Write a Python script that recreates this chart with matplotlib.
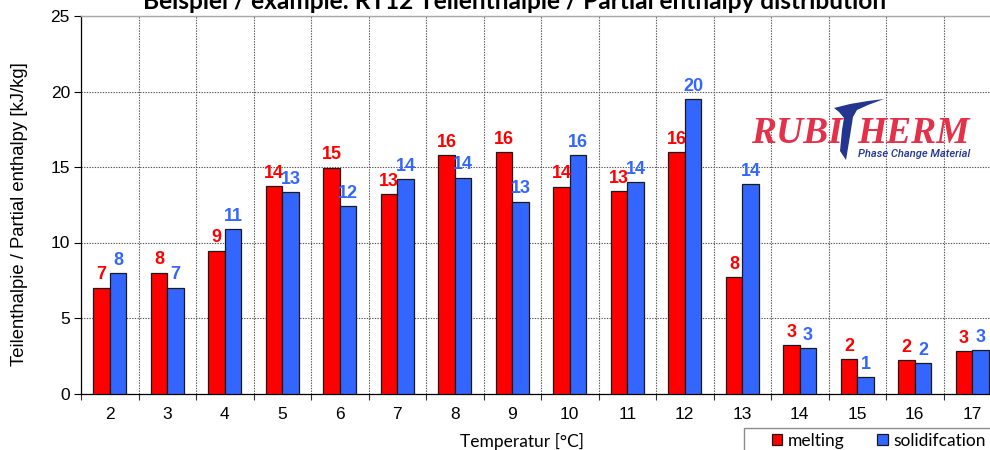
import matplotlib
matplotlib.use("Agg")
import matplotlib.pyplot as plt
import numpy as np
from matplotlib.patches import Rectangle, Polygon
from matplotlib.ticker import FixedLocator

# ---------------- data ----------------
temperatures = [2, 3, 4, 5, 6, 7, 8, 9, 10, 11, 12, 13, 14, 15, 16, 17]
melting = [7.0, 8.0, 9.45, 13.75, 14.95, 13.2, 15.8, 16.0, 13.7, 13.4, 16.0, 7.7, 3.2, 2.26, 2.2, 2.8]
solidification = [7.95, 7.0, 10.9, 13.35, 12.4, 14.2, 14.3, 12.7, 15.8, 14.0, 19.5, 13.85, 3.0, 1.08, 1.99, 2.85]
series_names = ["melting", "solidifcation"]
y_ticks = [0, 5, 10, 15, 20, 25]

title_text = "Beispiel / example: RT12 Teilenthalpie / Partial enthalpy distribution"
ylabel_text = "Teilenthalpie / Partial enthalpy [kJ/kg]"
xlabel_text = "Temperatur [°C]"

RED = "#FF0000"
BLUE = "#3366FF"

W, H = 990, 450
fig = plt.figure(figsize=(W / 100, H / 100), dpi=100)

def fx(px):
    return px / W

def fy(py):
    return 1 - py / H

ax_left, ax_right, ax_top, ax_bottom = 81, 1001, 16, 393.5
ax = fig.add_axes([fx(ax_left), fy(ax_bottom), fx(ax_right - ax_left), (ax_bottom - ax_top) / H])

x = np.arange(len(temperatures))
bw = 0.287
bars_m = ax.bar(x - bw / 2, melting, width=bw, color=RED, edgecolor="#1a1a1a", linewidth=0.9, zorder=3, label=series_names[0])
bars_s = ax.bar(x + bw / 2, solidification, width=bw, color=BLUE, edgecolor="#1a1a1a", linewidth=0.9, zorder=3, label=series_names[1])

for xi, v in zip(x, melting):
    ax.annotate(f"{int(round(v))}", (xi - bw / 2, v), xytext=(0, 6), textcoords="offset points",
                ha="center", va="baseline", color=RED, fontsize=13, fontweight="bold",
                family="Liberation Sans", zorder=5)
for xi, v in zip(x, solidification):
    ax.annotate(f"{int(round(v))}", (xi + bw / 2, v), xytext=(0, 6), textcoords="offset points",
                ha="center", va="baseline", color=BLUE, fontsize=13, fontweight="bold",
                family="Liberation Sans", zorder=5)

ax.set_xlim(-0.5, len(temperatures) - 0.5)
ax.set_ylim(0, 25)
ax.set_yticks(y_ticks)
ax.set_yticklabels([str(t) for t in y_ticks], family="Liberation Sans", fontsize=12.5)
ax.set_xticks(x)
ax.set_xticklabels([str(t) for t in temperatures], family="Liberation Sans", fontsize=12.5)
ax.xaxis.set_minor_locator(FixedLocator(np.arange(-0.5, len(temperatures), 1.0)))
ax.tick_params(axis="x", which="major", length=0, pad=9.5)
ax.tick_params(axis="x", which="minor", length=4, width=0.8, color="#333333", direction="out")
ax.tick_params(axis="y", which="major", length=5, width=0.8, direction="out", pad=3)

ax.grid(axis="y", which="major", linestyle=(0, (1.2, 1.2)), color="#555555", linewidth=0.8, zorder=0)
ax.grid(axis="x", which="minor", linestyle=(0, (1.2, 1.2)), color="#555555", linewidth=0.8, zorder=0)
ax.grid(axis="x", which="major", visible=False)

for s in ["left", "bottom"]:
    ax.spines[s].set_color("#000000")
    ax.spines[s].set_linewidth(0.9)
ax.spines["top"].set_color("#A8A8A8")
ax.spines["top"].set_linewidth(1.0)
ax.spines["right"].set_visible(False)

ax.set_ylabel(ylabel_text, family="Liberation Sans", fontsize=13.3)
ax.yaxis.set_label_coords((28 - ax_left) / (ax_right - ax_left), (ax_bottom - 214) / (ax_bottom - ax_top))
fig.text(fx(522), fy(447), xlabel_text, ha="center", va="baseline", family="Lato", fontsize=12.5)

# title (partly cut off at the top)
fig.text(fx(515), fy(9), title_text, ha="center", va="baseline", family="Lato",
         fontweight="bold", fontsize=17.6, color="black")

# legend
fig.add_artist(Rectangle((fx(744), fy(470)), fx(300), 42 / H, transform=fig.transFigure,
                         facecolor="white", edgecolor="#8c8c8c", linewidth=1.0, zorder=1))
fig.legend(handles=[bars_m, bars_s], labels=series_names, loc="lower left",
           bbox_to_anchor=(fx(772), fy(449)), ncol=2, frameon=False,
           prop={"family": "Lato", "size": 12.5}, handlelength=0.6, handleheight=0.6,
           handletextpad=0.3, columnspacing=1.9, borderpad=0.0, borderaxespad=0.0)

# logo
LOGO_RED = "#E5304A"
LOGO_BLUE = "#24358F"
fig.text(fx(751), fy(143), "RUBI", ha="left", va="baseline", family="Liberation Serif",
         fontweight="bold", fontstyle="italic", fontsize=27, color=LOGO_RED)
fig.text(fx(970), fy(143), "HERM", ha="right", va="baseline", family="Liberation Serif",
         fontweight="bold", fontstyle="italic", fontsize=27, color=LOGO_RED)
swoosh_px = [(834, 108), (850, 104), (868, 101), (884, 99), (868, 105), (857, 110),
             (853, 117), (850, 136), (846, 160), (840, 151), (842, 130), (844, 118), (839, 112)]
fig.add_artist(Polygon([(fx(a), fy(b)) for a, b in swoosh_px], closed=True,
                       transform=fig.transFigure, facecolor=LOGO_BLUE, edgecolor="none"))
fig.text(fx(858), fy(157), "Phase Change Material", ha="left", va="baseline", family="Roboto",
         fontstyle="italic", fontweight="medium", fontsize=8, color=LOGO_BLUE)

fig.savefig("out.png", dpi=100)
